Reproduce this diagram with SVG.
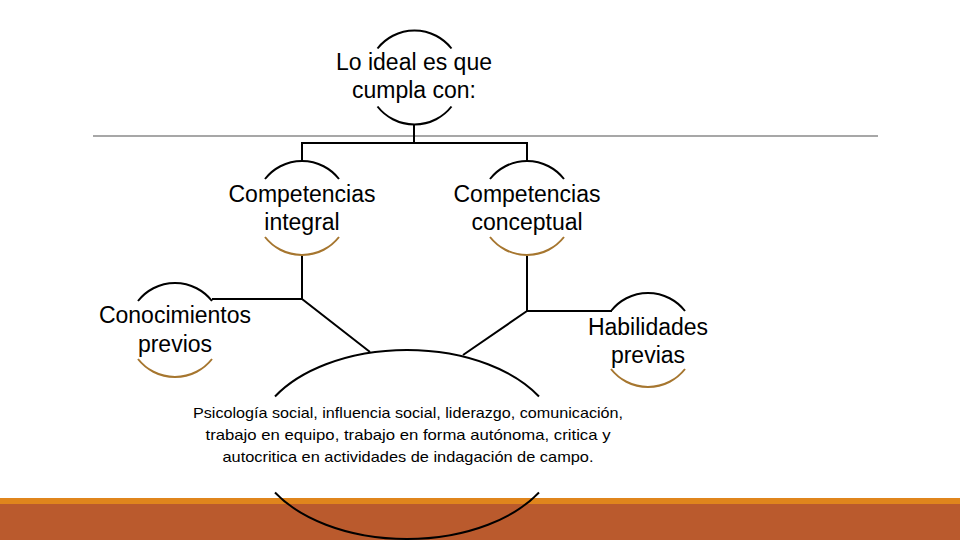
<svg xmlns="http://www.w3.org/2000/svg" width="960" height="540" viewBox="0 0 960 540">
<style>
.lbl{font-family:"Liberation Sans","Noto Sans",Arial,sans-serif;font-size:23px;fill:#000;text-anchor:middle}
.body{font-family:"Liberation Sans","Noto Sans",Arial,sans-serif;font-size:15px;fill:#000;text-anchor:middle}
.arcT{fill:none;stroke:#000;stroke-width:2}
.arcB{fill:none;stroke:#A6762F;stroke-width:2}
.arcK{fill:none;stroke:#000;stroke-width:2}
.conn{fill:none;stroke:#000;stroke-width:2}
</style>
<rect x="0" y="0" width="960" height="540" fill="#FFFFFF"/>
<rect x="0" y="498" width="960" height="7" fill="#E0851C"/>
<rect x="0" y="504" width="960" height="36" fill="#BA5A2D"/>
<line x1="93" y1="136" x2="878" y2="136" stroke="#8A8A8A" stroke-width="1.5"/>
<g id="connectors">
<path class="conn" d="M414 124.5 V143 M301 143 H528 M302 143 V161 M527 143 V161"/>
<path class="conn" d="M302 256 V299 M212 299 H302 L370 352"/>
<path class="conn" d="M527 256 V311 M527 311 H612 M527 311 L463 355"/>
</g>
<g id="node-top">
<path class="arcT" d="M377.5 48.5 A47 47 0 0 1 451.5 48.5"/>
<path class="arcK" d="M377.5 106.5 A47 47 0 0 0 451.5 106.5"/>
<text class="lbl" x="414" y="70">Lo ideal es que</text>
<text class="lbl" x="414" y="98">cumpla con:</text>
</g>
<g id="node-integral">
<path class="arcT" d="M265 179 A47 47 0 0 1 339 179"/>
<path class="arcB" d="M265 237 A47 47 0 0 0 339 237"/>
<text class="lbl" x="302" y="202">Competencias</text>
<text class="lbl" x="302" y="230">integral</text>
</g>
<g id="node-conceptual">
<path class="arcT" d="M490 179 A47 47 0 0 1 564 179"/>
<path class="arcB" d="M490 237 A47 47 0 0 0 564 237"/>
<text class="lbl" x="527" y="202">Competencias</text>
<text class="lbl" x="527" y="230">conceptual</text>
</g>
<g id="node-conocimientos">
<path class="arcT" d="M138 301 A47 47 0 0 1 212 301"/>
<path class="arcB" d="M138 359 A47 47 0 0 0 212 359"/>
<text class="lbl" x="175" y="323">Conocimientos</text>
<text class="lbl" x="175" y="352">previos</text>
</g>
<g id="node-habilidades">
<path class="arcT" d="M611 311 A47 47 0 0 1 685 311"/>
<path class="arcB" d="M611 369 A47 47 0 0 0 685 369"/>
<text class="lbl" x="648" y="335">Habilidades</text>
<text class="lbl" x="648" y="363">previas</text>
</g>
<g id="node-center">
<path class="arcK" d="M275 396.5 A153 94 0 0 1 539 396.5"/>
<path class="arcK" d="M275 492.5 A153 94 0 0 0 539 492.5"/>
<text class="body" x="408" y="418" textLength="430" lengthAdjust="spacingAndGlyphs">Psicología social, influencia social, liderazgo, comunicación,</text>
<text class="body" x="408" y="440" textLength="405" lengthAdjust="spacingAndGlyphs">trabajo en equipo, trabajo en forma autónoma, critica y</text>
<text class="body" x="408" y="462" textLength="371" lengthAdjust="spacingAndGlyphs">autocritica en actividades de indagación de campo.</text>
</g>
</svg>
